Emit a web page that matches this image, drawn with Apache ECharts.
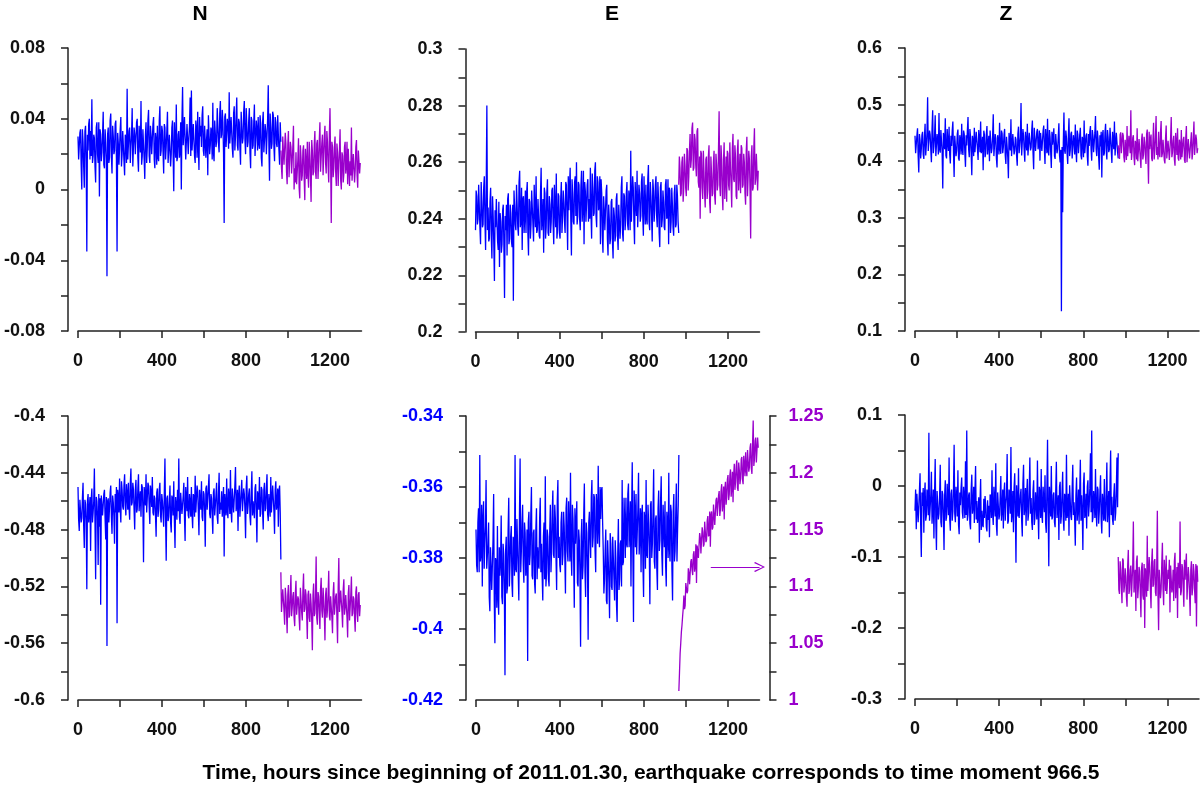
<!DOCTYPE html>
<html>
<head>
<meta charset="utf-8">
<script src="https://cdn.jsdelivr.net/npm/echarts@6.0.0/dist/echarts.min.js"></script>
<style>
html,body{margin:0;padding:0;background:#fff;}
#chart{width:1200px;height:786px;}
</style>
</head>
<body>
<div id="chart"></div>
<script>
// ---------- data ----------
const STEP = 3;            // hours between samples
const QUAKE_HOUR = 966;    // start of the post-earthquake (purple) segment
const X_TICKS = [0, 200, 400, 600, 800, 1000, 1200];
const X_LABELS = [0, 400, 800, 1200];
const PANEL_TITLES = ['N', 'E', 'Z'];
const X_TITLE = 'Time, hours since beginning of 2011.01.30, earthquake corresponds to time moment 966.5';

// Top row, N component
const nTopBefore = [
0.030,0.017,0.018,0.032,0.034,0.014,0.000,0.034,0.027,0.013,0.001,0.033,0.036,0.016,-0.035,0.031,0.022,0.037,0.040,0.017,
0.033,0.019,0.051,0.015,0.019,0.031,0.029,0.013,0.004,0.035,0.038,0.020,0.015,0.038,-0.004,0.034,0.031,0.016,0.021,0.031,
0.044,0.014,0.012,0.034,0.027,0.017,-0.049,0.031,0.035,0.015,0.018,0.039,0.043,0.019,0.009,0.036,0.030,0.020,0.022,0.037,
0.039,0.017,-0.035,0.032,0.026,0.014,0.014,0.034,0.041,0.013,0.020,0.033,0.033,0.016,0.008,0.031,0.028,0.015,0.057,0.017,
0.017,0.033,0.035,0.015,0.024,0.031,0.046,0.013,0.013,0.035,0.031,0.020,0.021,0.038,0.040,0.018,0.010,0.036,0.029,0.021,
0.050,0.014,0.019,0.034,0.033,0.017,0.006,0.031,0.038,0.015,0.024,0.039,0.045,0.019,0.015,0.036,0.030,0.020,0.020,0.037,
0.041,0.017,0.012,0.032,0.028,0.014,0.036,0.018,0.016,0.039,0.047,0.019,0.022,0.036,0.033,0.021,0.009,0.037,0.035,0.017,
0.024,0.033,0.044,0.015,0.014,0.031,0.031,0.013,0.020,0.035,0.039,0.020,-0.001,0.038,0.027,0.018,0.048,0.016,0.018,0.031,
0.033,0.018,0.022,0.038,0.000,0.039,0.058,0.025,0.026,0.041,0.041,0.017,0.017,0.037,0.037,0.020,0.029,0.036,0.052,0.019,
0.056,0.022,0.021,0.037,0.038,0.019,0.015,0.039,0.034,0.018,0.044,0.024,0.011,0.041,0.030,0.036,0.024,0.042,0.047,0.022,
0.019,0.036,0.036,0.018,0.028,0.034,0.008,0.042,0.042,0.020,0.025,0.035,0.033,0.017,0.049,0.021,0.016,0.039,0.039,0.024,
0.027,0.046,0.045,0.026,0.021,0.043,0.050,0.029,0.031,0.045,0.038,0.021,-0.019,0.041,0.043,0.024,0.024,0.040,0.036,0.023,
0.055,0.026,0.026,0.041,0.041,0.023,0.018,0.043,0.047,0.022,0.030,0.042,0.052,0.025,0.022,0.040,0.038,0.024,0.014,0.044,
0.044,0.026,0.029,0.044,0.050,0.028,0.020,0.046,0.036,0.024,0.027,0.039,0.046,0.021,0.012,0.041,0.039,0.023,0.025,0.038,
0.048,0.019,0.018,0.039,0.034,0.022,0.041,0.026,0.023,0.042,0.037,0.018,0.013,0.038,0.044,0.021,0.028,0.037,0.033,0.020,
0.020,0.040,0.059,0.025,0.005,0.043,0.035,0.023,0.026,0.044,0.042,0.024,0.016,0.041,0.038,0.026,0.024,0.042,0.031,0.022,
0.014,0.038,0.027
];
const nTopAfter = [
0.022,0.012,0.006,0.030,0.030,0.014,0.014,0.032,0.026,0.010,0.003,0.025,0.033,0.007,0.017,0.027,0.024,0.009,0.009,0.024,
0.036,0.000,0.012,0.004,0.021,0.003,0.002,0.017,0.029,0.001,-0.005,0.025,0.018,0.005,0.008,0.022,0.025,0.006,-0.006,0.023,
0.015,0.006,0.027,0.009,0.001,0.027,0.019,0.007,-0.007,0.028,0.022,0.008,0.010,0.025,0.033,0.010,0.006,0.026,0.028,0.006,
0.016,0.028,0.038,0.010,0.011,0.026,0.031,0.008,0.019,0.030,0.036,0.015,0.009,0.033,0.027,0.013,0.004,0.031,0.046,0.016,
-0.019,0.027,0.024,0.007,0.012,0.024,0.030,0.010,0.002,0.026,0.021,0.002,0.014,0.022,0.034,0.005,0.000,0.021,0.019,0.004,
0.009,0.024,0.027,0.009,0.013,0.027,0.003,0.023,0.024,0.002,0.016,0.008,0.035,0.005,0.006,0.020,0.020,0.004,0.011,0.024,
0.028,0.008,0.001,0.022,0.023,0.009,0.015
];

// Top row, E component
const eTopBefore = [
0.236,0.250,0.248,0.238,0.240,0.252,0.252,0.237,0.231,0.253,0.246,0.237,0.238,0.251,0.255,0.239,0.229,0.251,0.280,0.236,
0.244,0.232,0.233,0.246,0.251,0.234,0.226,0.248,0.241,0.231,0.218,0.243,0.237,0.247,0.247,0.232,0.229,0.246,0.223,0.242,
0.239,0.228,0.231,0.243,0.245,0.230,0.212,0.241,0.236,0.245,0.227,0.247,0.249,0.231,0.233,0.245,0.242,0.232,0.230,0.245,
0.211,0.250,0.244,0.238,0.236,0.252,0.252,0.237,0.234,0.253,0.257,0.237,0.239,0.251,0.229,0.247,0.248,0.235,0.241,0.250,
0.235,0.249,0.253,0.235,0.227,0.247,0.246,0.233,0.238,0.250,0.250,0.238,0.232,0.252,0.243,0.237,0.255,0.235,0.236,0.247,
0.247,0.234,0.233,0.249,0.258,0.236,0.240,0.247,0.228,0.251,0.249,0.233,0.237,0.249,0.254,0.235,0.234,0.248,0.245,0.235,
0.239,0.250,0.251,0.238,0.231,0.252,0.244,0.237,0.256,0.233,0.236,0.249,0.248,0.235,0.233,0.247,0.253,0.235,0.241,0.250,
0.246,0.239,0.235,0.253,0.252,0.241,0.229,0.255,0.243,0.252,0.258,0.240,0.227,0.254,0.249,0.239,0.238,0.253,0.255,0.241,
0.260,0.238,0.241,0.253,0.252,0.240,0.236,0.251,0.257,0.239,0.244,0.257,0.231,0.253,0.250,0.239,0.239,0.252,0.254,0.239,
0.247,0.240,0.258,0.242,0.233,0.256,0.251,0.241,0.242,0.257,0.260,0.241,0.237,0.255,0.253,0.243,0.245,0.255,0.231,0.254,
0.249,0.234,0.228,0.248,0.243,0.236,0.236,0.250,0.252,0.233,0.227,0.245,0.240,0.231,0.233,0.246,0.247,0.232,0.226,0.244,
0.241,0.232,0.234,0.247,0.249,0.234,0.229,0.245,0.245,0.233,0.238,0.251,0.255,0.235,0.232,0.249,0.248,0.236,0.240,0.249,
0.253,0.238,0.236,0.250,0.247,0.236,0.264,0.239,0.239,0.255,0.251,0.239,0.231,0.253,0.246,0.241,0.257,0.237,0.237,0.252,
0.249,0.239,0.241,0.253,0.256,0.241,0.234,0.255,0.245,0.238,0.252,0.240,0.238,0.254,0.259,0.239,0.236,0.253,0.248,0.241,
0.232,0.254,0.250,0.239,0.243,0.252,0.255,0.241,0.237,0.253,0.247,0.235,0.230,0.251,0.253,0.237,0.240,0.250,0.246,0.237,
0.236,0.252,0.254,0.240,0.241,0.254,0.231,0.251,0.250,0.235,0.239,0.251,0.245,0.237,0.234,0.249,0.252,0.237,0.238,0.252,
0.248,0.239,0.235
];
const eTopAfter = [
0.252,0.262,0.258,0.248,0.249,0.260,0.262,0.246,0.251,0.263,0.259,0.251,0.248,0.265,0.264,0.250,0.255,0.264,0.270,0.258,
0.261,0.272,0.274,0.257,0.258,0.270,0.268,0.259,0.255,0.271,0.272,0.253,0.251,0.262,0.240,0.264,0.263,0.251,0.247,0.264,
0.257,0.249,0.244,0.261,0.262,0.247,0.250,0.262,0.266,0.246,0.242,0.262,0.256,0.248,0.249,0.260,0.264,0.248,0.245,0.263,
0.259,0.250,0.252,0.264,0.278,0.252,0.248,0.266,0.261,0.249,0.243,0.261,0.267,0.247,0.254,0.262,0.246,0.264,0.263,0.252,
0.250,0.267,0.258,0.252,0.244,0.265,0.270,0.254,0.253,0.266,0.262,0.248,0.247,0.264,0.268,0.250,0.256,0.263,0.249,0.266,
0.265,0.251,0.252,0.263,0.260,0.249,0.245,0.264,0.269,0.248,0.255,0.264,0.261,0.250,0.233,0.262,0.266,0.250,0.251,0.265,
0.272,0.252,0.254,0.263,0.263,0.250,0.257
];

// Top row, Z component
const zTopBefore = [
0.445,0.414,0.412,0.445,0.458,0.409,0.380,0.448,0.437,0.405,0.421,0.446,0.452,0.412,0.404,0.443,0.466,0.410,0.430,0.450,
0.513,0.418,0.418,0.454,0.447,0.421,0.398,0.457,0.490,0.414,0.426,0.445,0.481,0.409,0.410,0.448,0.438,0.412,0.485,0.421,
0.415,0.455,0.453,0.416,0.352,0.450,0.442,0.421,0.476,0.410,0.405,0.457,0.433,0.418,0.461,0.412,0.396,0.445,0.427,0.454,
0.470,0.414,0.372,0.445,0.444,0.409,0.419,0.448,0.456,0.405,0.401,0.446,0.437,0.412,0.466,0.421,0.411,0.454,0.448,0.414,
0.390,0.446,0.428,0.454,0.478,0.421,0.407,0.457,0.443,0.414,0.375,0.445,0.435,0.409,0.459,0.416,0.417,0.452,0.451,0.421,
0.402,0.455,0.439,0.416,0.470,0.414,0.423,0.443,0.384,0.454,0.447,0.407,0.414,0.446,0.462,0.412,0.431,0.445,0.400,0.454,
0.455,0.414,0.422,0.445,0.483,0.409,0.408,0.448,0.441,0.405,0.389,0.446,0.436,0.412,0.468,0.421,0.413,0.454,0.449,0.414,
0.425,0.446,0.457,0.410,0.395,0.443,0.444,0.407,0.370,0.450,0.432,0.419,0.474,0.409,0.406,0.448,0.451,0.412,0.419,0.443,
0.438,0.409,0.392,0.448,0.461,0.414,0.427,0.443,0.503,0.410,0.412,0.457,0.445,0.418,0.399,0.452,0.433,0.419,0.466,0.410,
0.409,0.450,0.448,0.419,0.424,0.455,0.472,0.416,0.386,0.459,0.440,0.418,0.415,0.452,0.457,0.421,0.430,0.454,0.401,0.450,
0.452,0.418,0.418,0.454,0.463,0.421,0.395,0.457,0.436,0.414,0.475,0.419,0.410,0.455,0.443,0.416,0.388,0.452,0.429,0.443,
0.458,0.409,0.404,0.448,0.446,0.414,0.421,0.443,0.467,0.410,0.398,0.420,0.135,0.425,0.310,0.432,0.486,0.419,0.413,0.454,
0.441,0.414,0.395,0.445,0.476,0.409,0.420,0.448,0.452,0.405,0.407,0.446,0.434,0.412,0.465,0.421,0.398,0.454,0.447,0.414,
0.416,0.446,0.459,0.410,0.403,0.443,0.438,0.407,0.472,0.414,0.411,0.445,0.449,0.409,0.392,0.448,0.427,0.452,0.462,0.421,
0.401,0.455,0.445,0.416,0.418,0.450,0.480,0.421,0.409,0.454,0.439,0.407,0.385,0.446,0.426,0.452,0.371,0.445,0.455,0.410,
0.414,0.450,0.466,0.419,0.403,0.455,0.442,0.416,0.421,0.459,0.458,0.418,0.397,0.452,0.435,0.421,0.470,0.410,0.412,0.450,
0.448,0.416,0.405
];
const zTopAfter = [
0.428,0.411,0.404,0.447,0.451,0.414,0.413,0.450,0.445,0.407,0.398,0.438,0.436,0.402,0.462,0.409,0.409,0.445,0.442,0.414,
0.490,0.402,0.417,0.441,0.446,0.407,0.393,0.436,0.431,0.403,0.458,0.400,0.402,0.439,0.438,0.405,0.388,0.438,0.449,0.403,
0.411,0.443,0.433,0.412,0.395,0.448,0.456,0.409,0.360,0.452,0.421,0.439,0.447,0.405,0.400,0.436,0.468,0.403,0.418,0.443,
0.480,0.411,0.425,0.403,0.452,0.414,0.407,0.450,0.471,0.407,0.414,0.438,0.440,0.402,0.396,0.441,0.463,0.405,0.420,0.436,
0.437,0.402,0.403,0.441,0.478,0.407,0.416,0.436,0.445,0.403,0.392,0.450,0.433,0.411,0.458,0.405,0.401,0.438,0.429,0.403,
0.455,0.407,0.410,0.438,0.443,0.402,0.397,0.441,0.462,0.398,0.419,0.439,0.436,0.405,0.404,0.436,0.451,0.403,0.415,0.443,
0.470,0.411,0.409,0.447,0.438,0.414,0.423
];

// Bottom row, N component
const nBotBefore = [
-0.450,-0.473,-0.481,-0.459,-0.458,-0.475,-0.472,-0.458,-0.447,-0.477,-0.493,-0.459,-0.462,-0.474,-0.522,-0.460,-0.455,-0.475,-0.476,-0.457,
-0.495,-0.459,-0.451,-0.475,-0.468,-0.460,-0.437,-0.476,-0.515,-0.457,-0.460,-0.471,-0.505,-0.455,-0.478,-0.458,-0.533,-0.456,-0.456,-0.470,
-0.471,-0.455,-0.452,-0.472,-0.487,-0.457,-0.562,-0.460,-0.458,-0.475,-0.474,-0.454,-0.449,-0.471,-0.483,-0.456,-0.461,-0.471,-0.490,-0.455,
-0.468,-0.450,-0.546,-0.452,-0.457,-0.468,-0.444,-0.465,-0.475,-0.446,-0.452,-0.464,-0.466,-0.449,-0.441,-0.463,-0.470,-0.448,-0.455,-0.466,
-0.447,-0.464,-0.473,-0.448,-0.437,-0.463,-0.461,-0.447,-0.452,-0.466,-0.480,-0.452,-0.445,-0.468,-0.466,-0.451,-0.441,-0.467,-0.459,-0.453,
-0.471,-0.448,-0.450,-0.465,-0.503,-0.450,-0.455,-0.463,-0.441,-0.468,-0.468,-0.447,-0.449,-0.464,-0.476,-0.449,-0.454,-0.464,-0.443,-0.468,
-0.470,-0.456,-0.458,-0.470,-0.485,-0.454,-0.451,-0.471,-0.466,-0.452,-0.447,-0.470,-0.475,-0.455,-0.460,-0.469,-0.478,-0.454,-0.430,-0.472,
-0.502,-0.458,-0.456,-0.474,-0.471,-0.459,-0.449,-0.475,-0.482,-0.456,-0.459,-0.470,-0.446,-0.474,-0.493,-0.457,-0.463,-0.473,-0.452,-0.467,
-0.430,-0.471,-0.476,-0.454,-0.455,-0.469,-0.468,-0.456,-0.447,-0.471,-0.488,-0.450,-0.458,-0.467,-0.443,-0.470,-0.472,-0.455,-0.461,-0.471,
-0.450,-0.469,-0.479,-0.455,-0.457,-0.471,-0.442,-0.468,-0.469,-0.449,-0.453,-0.467,-0.484,-0.452,-0.460,-0.466,-0.446,-0.471,-0.474,-0.453,
-0.455,-0.467,-0.492,-0.451,-0.449,-0.466,-0.466,-0.450,-0.441,-0.469,-0.472,-0.455,-0.458,-0.471,-0.483,-0.454,-0.451,-0.470,-0.463,-0.456,
-0.447,-0.471,-0.476,-0.454,-0.440,-0.469,-0.461,-0.466,-0.453,-0.471,-0.470,-0.450,-0.499,-0.455,-0.456,-0.470,-0.444,-0.467,-0.472,-0.451,
-0.458,-0.469,-0.438,-0.467,-0.475,-0.451,-0.450,-0.468,-0.467,-0.449,-0.436,-0.467,-0.462,-0.452,-0.481,-0.456,-0.449,-0.471,-0.470,-0.453,
-0.445,-0.467,-0.468,-0.451,-0.455,-0.466,-0.486,-0.450,-0.442,-0.469,-0.463,-0.455,-0.451,-0.471,-0.477,-0.454,-0.439,-0.470,-0.460,-0.466,
-0.472,-0.451,-0.448,-0.468,-0.489,-0.453,-0.457,-0.466,-0.443,-0.471,-0.469,-0.450,-0.452,-0.467,-0.480,-0.452,-0.447,-0.467,-0.465,-0.451,
-0.441,-0.469,-0.474,-0.455,-0.455,-0.471,-0.443,-0.468,-0.468,-0.449,-0.450,-0.467,-0.483,-0.452,-0.446,-0.466,-0.462,-0.451,-0.478,-0.453,
-0.449,-0.468,-0.501
];
const nBotAfter = [
-0.510,-0.538,-0.538,-0.522,-0.521,-0.537,-0.547,-0.521,-0.527,-0.540,-0.553,-0.526,-0.519,-0.542,-0.540,-0.525,-0.512,-0.541,-0.535,-0.527,
-0.524,-0.542,-0.548,-0.525,-0.516,-0.540,-0.541,-0.527,-0.529,-0.542,-0.551,-0.521,-0.520,-0.538,-0.544,-0.523,-0.511,-0.538,-0.536,-0.522,
-0.526,-0.540,-0.557,-0.526,-0.523,-0.542,-0.545,-0.525,-0.532,-0.544,-0.565,-0.526,-0.518,-0.541,-0.539,-0.527,-0.499,-0.542,-0.547,-0.524,
-0.527,-0.538,-0.550,-0.522,-0.514,-0.537,-0.542,-0.521,-0.530,-0.540,-0.558,-0.526,-0.521,-0.542,-0.537,-0.525,-0.509,-0.541,-0.544,-0.527,
-0.528,-0.542,-0.553,-0.525,-0.517,-0.540,-0.541,-0.527,-0.525,-0.542,-0.560,-0.521,-0.500,-0.538,-0.538,-0.523,-0.522,-0.538,-0.549,-0.522,
-0.515,-0.540,-0.535,-0.526,-0.526,-0.542,-0.556,-0.525,-0.519,-0.544,-0.543,-0.526,-0.513,-0.541,-0.539,-0.527,-0.529,-0.542,-0.552,-0.524,
-0.520,-0.539,-0.545,-0.526,-0.524,-0.541,-0.533
];

// Bottom row, E component (blue: left axis, purple: right axis)
const eBotBefore = [
-0.372,-0.382,-0.384,-0.370,-0.366,-0.384,-0.351,-0.381,-0.379,-0.365,-0.388,-0.369,-0.364,-0.383,-0.376,-0.371,-0.358,-0.383,-0.383,-0.376,
-0.370,-0.391,-0.395,-0.377,-0.377,-0.389,-0.389,-0.375,-0.362,-0.392,-0.404,-0.380,-0.381,-0.394,-0.371,-0.391,-0.396,-0.377,-0.385,-0.381,
-0.368,-0.391,-0.393,-0.376,-0.379,-0.389,-0.413,-0.378,-0.374,-0.390,-0.388,-0.372,-0.363,-0.388,-0.382,-0.374,-0.371,-0.387,-0.391,-0.374,
-0.376,-0.385,-0.351,-0.383,-0.384,-0.369,-0.369,-0.384,-0.392,-0.368,-0.352,-0.384,-0.378,-0.370,-0.365,-0.382,-0.387,-0.370,-0.373,-0.385,
-0.381,-0.372,-0.409,-0.370,-0.367,-0.382,-0.379,-0.368,-0.360,-0.385,-0.386,-0.373,-0.372,-0.387,-0.390,-0.372,-0.366,-0.386,-0.377,-0.382,
-0.383,-0.369,-0.363,-0.384,-0.376,-0.385,-0.392,-0.374,-0.370,-0.386,-0.357,-0.388,-0.384,-0.372,-0.374,-0.386,-0.388,-0.373,-0.365,-0.384,
-0.378,-0.367,-0.361,-0.379,-0.380,-0.365,-0.369,-0.380,-0.389,-0.364,-0.358,-0.380,-0.374,-0.382,-0.384,-0.370,-0.367,-0.382,-0.379,-0.367,
-0.371,-0.380,-0.390,-0.366,-0.363,-0.378,-0.381,-0.364,-0.372,-0.381,-0.356,-0.379,-0.385,-0.365,-0.369,-0.380,-0.394,-0.366,-0.376,-0.370,
-0.364,-0.387,-0.388,-0.372,-0.375,-0.385,-0.405,-0.374,-0.369,-0.386,-0.382,-0.368,-0.359,-0.384,-0.391,-0.370,-0.373,-0.383,-0.403,-0.370,
-0.367,-0.375,-0.380,-0.363,-0.358,-0.377,-0.374,-0.362,-0.363,-0.378,-0.384,-0.362,-0.366,-0.376,-0.354,-0.372,-0.377,-0.360,-0.369,-0.361,
-0.360,-0.370,-0.378,-0.390,-0.386,-0.378,-0.372,-0.392,-0.393,-0.375,-0.381,-0.387,-0.397,-0.373,-0.376,-0.388,-0.389,-0.374,-0.374,-0.386,
-0.392,-0.375,-0.380,-0.393,-0.398,-0.379,-0.369,-0.389,-0.386,-0.376,-0.375,-0.388,-0.358,-0.382,-0.381,-0.363,-0.370,-0.380,-0.363,-0.376,
-0.377,-0.362,-0.359,-0.377,-0.372,-0.364,-0.388,-0.367,-0.353,-0.379,-0.398,-0.361,-0.367,-0.377,-0.362,-0.379,-0.379,-0.366,-0.356,-0.379,
-0.374,-0.366,-0.384,-0.368,-0.365,-0.382,-0.391,-0.367,-0.369,-0.383,-0.358,-0.379,-0.380,-0.365,-0.370,-0.377,-0.393,-0.365,-0.364,-0.380,
-0.376,-0.367,-0.355,-0.381,-0.383,-0.369,-0.368,-0.383,-0.389,-0.366,-0.361,-0.378,-0.375,-0.364,-0.357,-0.379,-0.385,-0.365,-0.371,-0.377,
-0.364,-0.382,-0.388,-0.367,-0.370,-0.380,-0.356,-0.377,-0.381,-0.365,-0.367,-0.383,-0.392,-0.367,-0.362,-0.381,-0.378,-0.368,-0.359,-0.381,
-0.372,-0.365,-0.351
];
const eBotAfter = [
1.008,1.024,1.041,1.050,1.060,1.066,1.074,1.081,1.092,1.080,1.083,1.103,1.104,1.094,1.096,1.116,1.112,1.102,1.101,1.122,
1.124,1.114,1.110,1.128,1.131,1.113,1.118,1.137,1.103,1.136,1.136,1.125,1.125,1.147,1.143,1.129,1.129,1.152,1.148,1.135,
1.137,1.157,1.156,1.139,1.141,1.158,1.162,1.144,1.146,1.166,1.135,1.163,1.166,1.150,1.152,1.172,1.171,1.154,1.155,1.176,
1.178,1.162,1.163,1.180,1.184,1.162,1.168,1.184,1.190,1.166,1.174,1.188,1.159,1.186,1.192,1.172,1.179,1.194,1.198,1.176,
1.181,1.198,1.203,1.179,1.187,1.201,1.174,1.198,1.208,1.185,1.192,1.206,1.211,1.187,1.184,1.209,1.202,1.190,1.195,1.212,
1.214,1.194,1.190,1.215,1.207,1.197,1.218,1.202,1.197,1.220,1.221,1.201,1.205,1.222,1.226,1.204,1.199,1.225,1.246,1.206,
1.212,1.228,1.231,1.209,1.208,1.231,1.222
];
const E_ARROW = { from: [1118, 1.117], to: [1350, 1.117] };

// Bottom row, Z component
const zBotBefore = [
-0.035,-0.005,-0.061,-0.011,-0.010,-0.051,-0.052,-0.007,0.018,-0.055,-0.100,-0.009,-0.028,-0.003,-0.066,-0.013,0.005,-0.049,-0.042,-0.005,
-0.015,-0.041,0.075,-0.049,-0.048,-0.013,0.020,-0.053,-0.032,-0.005,-0.074,-0.011,0.038,-0.051,-0.090,-0.007,-0.006,-0.047,-0.039,-0.013,
0.030,-0.051,-0.058,-0.007,-0.012,-0.045,-0.090,-0.013,0.008,-0.049,-0.044,0.003,-0.020,-0.041,0.040,-0.047,-0.063,-0.011,-0.005,-0.049,
-0.036,-0.005,0.058,-0.039,-0.051,-0.001,-0.014,-0.043,0.022,-0.055,-0.068,-0.009,-0.027,-0.003,0.012,-0.037,-0.046,-0.001,-0.018,-0.045,
0.035,-0.041,0.078,-0.049,-0.040,-0.013,-0.009,-0.053,-0.061,-0.005,0.016,-0.039,-0.030,-0.001,-0.052,-0.007,0.028,-0.047,-0.021,-0.052,
-0.043,-0.016,-0.080,-0.024,0.010,-0.062,-0.035,-0.054,-0.058,-0.018,-0.045,-0.014,-0.028,-0.058,-0.064,-0.020,-0.048,-0.028,-0.072,-0.012,
-0.015,-0.045,0.022,-0.039,-0.055,-0.001,-0.024,-0.043,0.032,-0.055,-0.070,-0.009,-0.008,-0.047,-0.041,-0.013,0.014,-0.049,-0.033,-0.005,
-0.060,-0.009,0.005,-0.049,-0.026,-0.013,0.045,-0.053,-0.049,-0.005,-0.012,-0.039,0.055,-0.051,-0.038,-0.007,-0.065,-0.003,0.018,-0.037,
-0.108,0.001,-0.020,-0.043,0.025,-0.045,-0.047,-0.013,-0.004,-0.049,-0.071,0.003,0.030,-0.041,-0.030,-0.003,-0.056,-0.011,0.010,-0.049,
-0.039,-0.005,0.040,-0.039,-0.017,-0.051,-0.062,-0.007,0.008,-0.055,-0.045,-0.009,-0.025,-0.047,0.036,-0.037,-0.075,-0.001,-0.011,-0.045,
0.024,-0.041,-0.052,-0.001,-0.022,-0.037,0.015,-0.053,-0.066,-0.005,0.065,-0.039,-0.113,-0.001,-0.019,-0.043,0.028,-0.047,-0.044,-0.013,
-0.009,-0.051,-0.058,-0.007,0.034,-0.045,-0.030,-0.013,-0.076,-0.001,0.006,-0.053,-0.041,-0.009,0.020,-0.047,-0.063,-0.011,-0.016,-0.049,
0.044,-0.045,-0.037,-0.011,-0.070,0.001,0.003,-0.043,-0.048,-0.005,0.030,-0.041,-0.023,-0.047,-0.084,-0.013,0.012,-0.049,-0.034,-0.005,
-0.054,-0.009,0.037,-0.049,-0.013,-0.037,-0.090,0.003,0.019,-0.045,-0.040,-0.011,-0.060,-0.001,0.008,-0.043,-0.028,-0.003,0.046,-0.037,
0.078,-0.051,-0.045,-0.007,-0.018,-0.045,0.024,-0.037,-0.057,-0.001,-0.005,-0.053,-0.036,-0.009,0.015,-0.047,-0.067,-0.011,-0.024,-0.049,
0.010,-0.045,-0.050,-0.011,0.033,-0.051,-0.029,-0.007,-0.072,0.005,0.050,-0.041,-0.015,-0.047,-0.055,-0.013,0.004,-0.049,-0.038,-0.005,
0.040,-0.030,0.046
];
const zBotAfter = [
-0.100,-0.146,-0.152,-0.106,-0.118,-0.142,-0.165,-0.102,-0.105,-0.150,-0.140,-0.116,-0.128,-0.156,-0.170,-0.112,-0.090,-0.152,-0.146,-0.118,
-0.112,-0.156,-0.158,-0.112,-0.050,-0.150,-0.133,-0.118,-0.176,-0.106,-0.098,-0.158,-0.142,-0.114,-0.120,-0.152,-0.185,-0.116,-0.108,-0.154,
-0.160,-0.110,-0.200,-0.116,-0.126,-0.156,-0.070,-0.148,-0.148,-0.100,-0.115,-0.146,-0.172,-0.108,-0.088,-0.142,-0.139,-0.106,-0.103,-0.150,
-0.155,-0.114,-0.035,-0.154,-0.203,-0.118,-0.117,-0.158,-0.145,-0.110,-0.080,-0.144,-0.168,-0.104,-0.124,-0.148,-0.098,-0.152,-0.150,-0.118,
-0.131,-0.104,-0.178,-0.112,-0.110,-0.150,-0.143,-0.118,-0.162,-0.106,-0.094,-0.158,-0.136,-0.114,-0.186,-0.108,-0.122,-0.144,-0.050,-0.154,
-0.148,-0.110,-0.115,-0.144,-0.170,-0.104,-0.132,-0.112,-0.095,-0.160,-0.158,-0.114,-0.127,-0.152,-0.183,-0.118,-0.106,-0.154,-0.144,-0.110,
-0.120,-0.146,-0.165,-0.110,-0.198,-0.112,-0.135
];

// ---------- styling / layout ----------
const BLUE = '#0000ff';
const PURPLE = '#9900cc';
const AXIS_COLOR = '#222';
const FONT = "'Liberation Sans', Arial, sans-serif";

const panels = [
  { grid: {left: 78,  top: 48,  width: 283.5, height: 283}, y: {min: -0.08, max: 0.08, interval: 0.04}, before: nTopBefore, after: nTopAfter },
  { grid: {left: 475.5, top: 49, width: 284, height: 283}, y: {min: 0.2, max: 0.3, interval: 0.02}, before: eTopBefore, after: eTopAfter },
  { grid: {left: 915, top: 48, width: 284, height: 283}, y: {min: 0.1, max: 0.6, interval: 0.1}, before: zTopBefore, after: zTopAfter },
  { grid: {left: 78,  top: 416, width: 283.5, height: 284}, y: {min: -0.6, max: -0.4, interval: 0.04}, before: nBotBefore, after: nBotAfter },
  { grid: {left: 476, top: 416, width: 283.5, height: 284}, y: {min: -0.42, max: -0.34, interval: 0.02, color: BLUE},
    y2: {min: 1, max: 1.25, interval: 0.05, color: PURPLE}, before: eBotBefore, after: eBotAfter },
  { grid: {left: 915, top: 415, width: 284, height: 284}, y: {min: -0.3, max: 0.1, interval: 0.1}, before: zBotBefore, after: zBotAfter }
];

const lineStyle = { color: AXIS_COLOR, width: 1.5 };
const labelBase = { fontSize: 18, fontWeight: 'bold', fontFamily: FONT, color: '#111' };
const fmtY = v => String(+(+v).toFixed(4));

const grids = [], xAxes = [], yAxes = [], series = [];
panels.forEach((p, i) => {
  grids.push(Object.assign({}, p.grid));
  xAxes.push({
    type: 'value', gridIndex: i, min: 0, max: 1350,
    axisLine: { show: true, onZero: false, lineStyle },
    axisTick: { show: true, length: 7, lineStyle, customValues: X_TICKS },
    axisLabel: Object.assign({}, labelBase, { margin: 21, customValues: X_LABELS, formatter: v => String(v) }),
    splitLine: { show: false }
  });
  const yIdx = yAxes.length;
  yAxes.push({
    type: 'value', gridIndex: i, position: 'left', offset: 10,
    min: p.y.min, max: p.y.max, interval: p.y.interval,
    axisLine: { show: true, onZero: false, lineStyle },
    axisTick: { show: true, length: 7, lineStyle },
    minorTick: { show: true, splitNumber: 2, length: 7, lineStyle },
    axisLabel: Object.assign({}, labelBase, { margin: 23, formatter: fmtY }, p.y.color ? { color: p.y.color } : {}),
    splitLine: { show: false }, minorSplitLine: { show: false }
  });
  let y2Idx = yIdx;
  if (p.y2) {
    y2Idx = yAxes.length;
    yAxes.push({
      type: 'value', gridIndex: i, position: 'right', offset: 10,
      min: p.y2.min, max: p.y2.max, interval: p.y2.interval,
      axisLine: { show: true, onZero: false, lineStyle },
      axisTick: { show: true, length: 7, lineStyle },
      minorTick: { show: true, splitNumber: 2, length: 7, lineStyle },
      axisLabel: Object.assign({}, labelBase, { margin: 19, formatter: fmtY, color: p.y2.color }),
      splitLine: { show: false }, minorSplitLine: { show: false }
    });
  }
  series.push({
    type: 'line', xAxisIndex: i, yAxisIndex: yIdx, showSymbol: false, symbol: 'none',
    lineStyle: { color: BLUE, width: 1.3 }, itemStyle: { color: BLUE },
    data: p.before.map((v, k) => [k * STEP, v]), silent: true
  });
  const purple = {
    type: 'line', xAxisIndex: i, yAxisIndex: y2Idx, showSymbol: false, symbol: 'none',
    lineStyle: { color: PURPLE, width: 1.3 }, itemStyle: { color: PURPLE },
    data: p.after.map((v, k) => [QUAKE_HOUR + k * STEP, v]), silent: true
  };
  if (p.y2) {
    purple.markLine = {
      silent: true, animation: false,
      symbol: ['none', 'path://M5,0 L10,9 L9,10 L5,2 L1,10 L0,9 Z'],
      symbolSize: [10, 11],
      label: { show: false },
      lineStyle: { color: PURPLE, width: 1.2, type: 'solid' },
      data: [[{ coord: E_ARROW.from }, { coord: E_ARROW.to }]]
    };
  }
  series.push(purple);
});

const titleXs = [200, 612, 1006];
const graphics = PANEL_TITLES.map((t, i) => ({
  type: 'text', x: titleXs[i], y: 14,
  style: { text: t, align: 'center', verticalAlign: 'middle', textAlign: 'center', textVerticalAlign: 'middle',
           fontSize: 21, fontWeight: 'bold', fontFamily: FONT, fill: '#000' }
}));
graphics.push({
  type: 'text', x: 651, y: 773,
  style: { text: X_TITLE, align: 'center', verticalAlign: 'middle', textAlign: 'center', textVerticalAlign: 'middle',
           fontSize: 21, fontWeight: 'bold', fontFamily: FONT, fill: '#000' }
});

const chart = echarts.init(document.getElementById('chart'), null, { renderer: 'canvas' });
chart.setOption({
  animation: false,
  backgroundColor: '#fff',
  grid: grids,
  xAxis: xAxes,
  yAxis: yAxes,
  series: series,
  graphic: graphics
});
</script>
</body>
</html>
